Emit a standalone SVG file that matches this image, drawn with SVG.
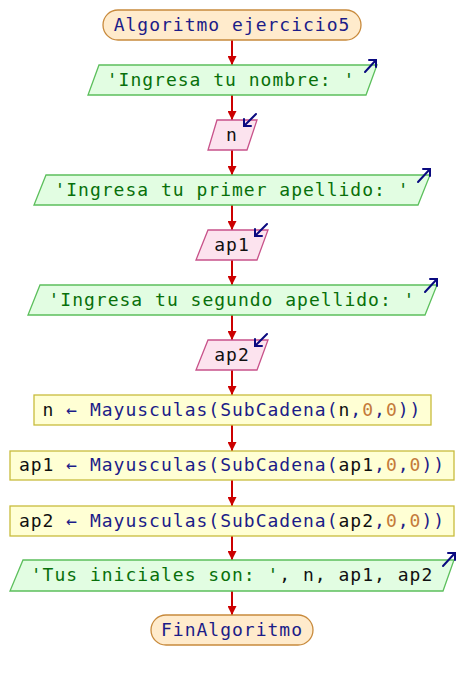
<svg xmlns="http://www.w3.org/2000/svg" width="464" height="680" viewBox="0 0 464 680">
  <defs>
    <style>
      text { font-family: "DejaVu Sans Mono", "Liberation Mono", monospace; font-size: 18px; letter-spacing: 1px; text-anchor: middle; }
      .term { fill: #ffebcc; stroke: #c88a3c; stroke-width: 1.3; }
      .out { fill: #e2fde2; stroke: #5cbf5c; stroke-width: 1.3; }
      .inp { fill: #fce3ee; stroke: #c8528a; stroke-width: 1.3; }
      .proc { fill: #ffffd4; stroke: #c8bc3c; stroke-width: 1.3; }
      .kw { fill: #1c1c88; }
      .str { fill: #08700a; }
      .var { fill: #101010; }
      .num { fill: #c47a3a; }
      .flow { stroke: #cc0000; stroke-width: 2; fill: none; }
      .io { stroke: #0a0a80; stroke-width: 2; fill: none; stroke-linecap: round; }
    </style>
    <marker id="head" viewBox="0 0 10 10" refX="10" refY="5" markerWidth="4.5" markerHeight="4.5" orient="auto" markerUnits="strokeWidth">
      <path d="M0,0 L10,5 L0,10 Z" fill="#cc0000"/>
    </marker>
  </defs>

  <g id="connectors">
    <line class="flow" x1="232" y1="40" x2="232" y2="65" marker-end="url(#head)"/>
    <line class="flow" x1="232" y1="95" x2="232" y2="120" marker-end="url(#head)"/>
    <line class="flow" x1="232" y1="150" x2="232" y2="175" marker-end="url(#head)"/>
    <line class="flow" x1="232" y1="205" x2="232" y2="230" marker-end="url(#head)"/>
    <line class="flow" x1="232" y1="260" x2="232" y2="285" marker-end="url(#head)"/>
    <line class="flow" x1="232" y1="315" x2="232" y2="340" marker-end="url(#head)"/>
    <line class="flow" x1="232" y1="370" x2="232" y2="395" marker-end="url(#head)"/>
    <line class="flow" x1="232" y1="425" x2="232" y2="451" marker-end="url(#head)"/>
    <line class="flow" x1="232" y1="480" x2="232" y2="506" marker-end="url(#head)"/>
    <line class="flow" x1="232" y1="536" x2="232" y2="560" marker-end="url(#head)"/>
    <line class="flow" x1="232" y1="591" x2="232" y2="615" marker-end="url(#head)"/>
  </g>

  <g id="start">
    <rect class="term" x="103" y="10" width="258" height="30" rx="15"/>
    <text x="232" y="31" class="kw">Algoritmo ejercicio5</text>
  </g>

  <g id="out1">
    <polygon class="out" points="99,65 377,65 366,95 88,95"/>
    <text x="231" y="86" class="str">'Ingresa tu nombre: '</text>
    <path class="io" d="M365,72 L376,60 M369,60 L376,60 L376,67"/>
  </g>

  <g id="in_n">
    <polygon class="inp" points="217,120 257,120 247,150 208,150"/>
    <text x="232" y="141" class="var">n</text>
    <path class="io" d="M256,114 L244,126 M244,119 L244,126 L251,126"/>
  </g>

  <g id="out2">
    <polygon class="out" points="46,175 430,175 418,205 34,205"/>
    <text x="232" y="196" class="str">'Ingresa tu primer apellido: '</text>
    <path class="io" d="M418,182 L430,169 M423,169 L430,169 L430,176"/>
  </g>

  <g id="in_ap1">
    <polygon class="inp" points="208,230 268,230 257,260 196,260"/>
    <text x="232" y="251" class="var">ap1</text>
    <path class="io" d="M267,224 L255,236 M255,229 L255,236 L262,236"/>
  </g>

  <g id="out3">
    <polygon class="out" points="40,285 437,285 425,315 28,315"/>
    <text x="232" y="306" class="str">'Ingresa tu segundo apellido: '</text>
    <path class="io" d="M425,292 L437,279 M430,279 L437,279 L437,286"/>
  </g>

  <g id="in_ap2">
    <polygon class="inp" points="208,340 268,340 257,370 196,370"/>
    <text x="232" y="361" class="var">ap2</text>
    <path class="io" d="M267,334 L255,346 M255,339 L255,346 L262,346"/>
  </g>

  <g id="assign_n">
    <rect class="proc" x="34" y="395" width="397" height="30"/>
    <text x="232" y="416"><tspan class="var">n</tspan><tspan class="kw"> ← Mayusculas(SubCadena(</tspan><tspan class="var">n</tspan><tspan class="kw">,</tspan><tspan class="num">0</tspan><tspan class="kw">,</tspan><tspan class="num">0</tspan><tspan class="kw">))</tspan></text>
  </g>

  <g id="assign_ap1">
    <rect class="proc" x="10" y="451" width="444" height="29"/>
    <text x="232" y="471"><tspan class="var">ap1</tspan><tspan class="kw"> ← Mayusculas(SubCadena(</tspan><tspan class="var">ap1</tspan><tspan class="kw">,</tspan><tspan class="num">0</tspan><tspan class="kw">,</tspan><tspan class="num">0</tspan><tspan class="kw">))</tspan></text>
  </g>

  <g id="assign_ap2">
    <rect class="proc" x="10" y="506" width="444" height="30"/>
    <text x="232" y="527"><tspan class="var">ap2</tspan><tspan class="kw"> ← Mayusculas(SubCadena(</tspan><tspan class="var">ap2</tspan><tspan class="kw">,</tspan><tspan class="num">0</tspan><tspan class="kw">,</tspan><tspan class="num">0</tspan><tspan class="kw">))</tspan></text>
  </g>

  <g id="out4">
    <polygon class="out" points="23,560 454,560 443,591 10,591"/>
    <text x="232" y="581"><tspan class="str">'Tus iniciales son: '</tspan><tspan class="var">, n, ap1, ap2</tspan></text>
    <path class="io" d="M443,566 L455,553 M448,553 L455,553 L455,560"/>
  </g>

  <g id="end">
    <rect class="term" x="151" y="615" width="162" height="30" rx="15"/>
    <text x="232" y="636" class="kw">FinAlgoritmo</text>
  </g>
</svg>
